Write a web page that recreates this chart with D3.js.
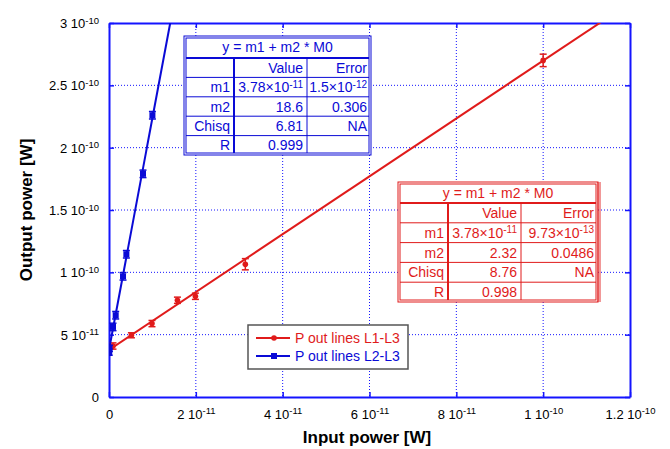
<!DOCTYPE html>
<html><head><meta charset="utf-8">
<script src="https://cdn.jsdelivr.net/npm/d3@7"></script>
<style>body{margin:0;background:#fff}svg{display:block}text{font-family:"Liberation Sans",Arial,Helvetica,sans-serif}</style>
</head><body><svg id="c" width="670" height="449"></svg>
<script>
// ---- data ----
const xTickValues = [0, 2e-11, 4e-11, 6e-11, 8e-11, 1e-10, 1.2e-10];
const xTickLabels = ["0", "2 10^-11", "4 10^-11", "6 10^-11", "8 10^-11", "1 10^-10", "1.2 10^-10"];
const yTickValues = [0, 5e-11, 1e-10, 1.5e-10, 2e-10, 2.5e-10, 3e-10];
const yTickLabels = ["0", "5 10^-11", "1 10^-10", "1.5 10^-10", "2 10^-10", "2.5 10^-10", "3 10^-10"];

const redX   = [0.92e-12, 5.16e-12, 9.9e-12, 1.576e-11, 1.99e-11, 3.14e-11, 1.0e-10];
const redY   = [4.09e-11, 4.95e-11, 5.89e-11, 7.76e-11, 8.08e-11, 1.065e-10, 2.70e-10];
const redErr = [2.5e-12, 2.0e-12, 2.5e-12, 2.5e-12, 2.5e-12, 4.5e-12, 5.0e-12];
const redFit = [3.78e-11, 2.32];

const blueX   = [0.05e-12, 0.1e-12, 0.92e-12, 1.54e-12, 3.23e-12, 4.0e-12, 7.83e-12, 1.0e-11];
const blueY   = [3.6e-11, 3.9e-11, 5.62e-11, 6.56e-11, 9.68e-11, 1.145e-10, 1.79e-10, 2.26e-10];
const blueErr = [2.5e-12, 2.5e-12, 3e-12, 3e-12, 3e-12, 3e-12, 3e-12, 3e-12];
const blueFit = [3.78e-11, 18.6];

const seriesNames = ["P out lines L1-L3", "P out lines L2-L3"];
const tableTitle = "y = m1 + m2 * M0";
const blueTable = [["", "Value", "Error"], ["m1", "3.78×10^-11", "1.5×10^-12"], ["m2", "18.6", "0.306"], ["Chisq", "6.81", "NA"], ["R", "0.999", ""]];
const redTable  = [["", "Value", "Error"], ["m1", "3.78×10^-11", "9.73×10^-13"], ["m2", "2.32", "0.0486"], ["Chisq", "8.76", "NA"], ["R", "0.998", ""]];

// ---- drawing ----
const RED = "#e01b1b", BLUE = "#0a0ad6", AX = "#1414ff";
const svg = d3.select("#c");
const L = 109, R = 630, T = 23, B = 397;
const x = d3.scaleLinear().domain([0, 1.2e-10]).range([L, R]);
const y = d3.scaleLinear().domain([0, 3e-10]).range([B, T]);

function supText(sel, s, supSize) {
  const parts = s.split("^");
  sel.text(null);
  sel.append("tspan").text(parts[0]);
  if (parts.length > 1) sel.append("tspan").attr("dy", "-0.45em").style("font-size", supSize + "px").text(parts[1]);
}

// grid
const grid = svg.append("g");
grid.selectAll("line.gx").data(xTickValues.slice(1, -1)).join("line")
  .attr("x1", d => x(d)).attr("x2", d => x(d)).attr("y1", T).attr("y2", B)
  .attr("stroke", AX).attr("stroke-width", 1).attr("stroke-dasharray", "1,2");
grid.selectAll("line.gy").data(yTickValues.slice(1, -1)).join("line")
  .attr("y1", d => y(d)).attr("y2", d => y(d)).attr("x1", L).attr("x2", R)
  .attr("stroke", AX).attr("stroke-width", 1).attr("stroke-dasharray", "1,2");

// axes
function styleAxis(g) {
  g.select(".domain").attr("stroke", AX).attr("stroke-width", 2);
  g.selectAll(".tick line").attr("stroke", AX).attr("stroke-width", 1.5);
}
const gx = svg.append("g").attr("transform", `translate(0,${B})`)
  .call(d3.axisBottom(x).tickValues(xTickValues).tickSizeInner(-5).tickSizeOuter(0).tickPadding(10));
styleAxis(gx);
gx.selectAll(".tick text").each(function(d, i) {
  d3.select(this).attr("fill", "#000").style("font-size", "13px").attr("dy", "0.9em");
  supText(d3.select(this), xTickLabels[i], 9.5);
});
const gy = svg.append("g").attr("transform", `translate(${L},0)`)
  .call(d3.axisLeft(y).tickValues(yTickValues).tickSizeInner(-5).tickSizeOuter(0).tickPadding(10));
styleAxis(gy);
gy.selectAll(".tick text").each(function(d, i) {
  d3.select(this).attr("fill", "#000").style("font-size", "13px").attr("dy", "0.35em");
  supText(d3.select(this), yTickLabels[i], 9.5);
});
const gt = svg.append("g").attr("transform", `translate(0,${T})`)
  .call(d3.axisTop(x).tickValues(xTickValues).tickSizeInner(-5).tickSizeOuter(0).tickFormat(""));
styleAxis(gt);
const gr = svg.append("g").attr("transform", `translate(${R},0)`)
  .call(d3.axisRight(y).tickValues(yTickValues).tickSizeInner(-5).tickSizeOuter(0).tickFormat(""));
styleAxis(gr);

// axis titles
svg.append("text").attr("x", 367).attr("y", 443).attr("text-anchor", "middle")
  .style("font-size", "17px").style("font-weight", "bold").text("Input power [W]");
svg.append("text").attr("transform", "translate(32,210) rotate(-90)").attr("text-anchor", "middle")
  .style("font-size", "17px").style("font-weight", "bold").text("Output power [W]");

// plot clip
svg.append("defs").append("clipPath").attr("id", "clip").append("rect")
  .attr("x", L).attr("y", T).attr("width", R - L).attr("height", B - T);
const plot = svg.append("g").attr("clip-path", "url(#clip)");

function drawSeries(xs, ys, es, fit, color, marker) {
  const xmax = 1.2e-10;
  const line = d3.line().x(d => x(d[0])).y(d => y(d[1]));
  plot.append("path").attr("d", line([[0, fit[0]], [xmax, fit[0] + fit[1] * xmax]]))
    .attr("fill", "none").attr("stroke", color).attr("stroke-width", 2);
  const g = plot.append("g");
  xs.forEach((xv, i) => {
    const cx = x(xv), y1 = y(ys[i] - es[i]), y2 = y(ys[i] + es[i]);
    g.append("line").attr("x1", cx).attr("x2", cx).attr("y1", y1).attr("y2", y2).attr("stroke", color).attr("stroke-width", 1.5);
    [y1, y2].forEach(yy => g.append("line").attr("x1", cx - 3.5).attr("x2", cx + 3.5).attr("y1", yy).attr("y2", yy).attr("stroke", color).attr("stroke-width", 1.5));
    if (marker === "circle") g.append("circle").attr("cx", cx).attr("cy", y(ys[i])).attr("r", 2.8).attr("fill", color);
    else g.append("rect").attr("x", cx - 3).attr("y", y(ys[i]) - 3).attr("width", 6).attr("height", 6).attr("fill", color);
  });
}
drawSeries(redX, redY, redErr, redFit, RED, "circle");
drawSeries(blueX, blueY, blueErr, blueFit, BLUE, "rect");

// tables
function drawTable(x0, y0, colW, titleH, rowH, rows, color, shadow) {
  const W = d3.sum(colW), H = titleH + rowH * rows.length;
  const g = svg.append("g");
  g.append("rect").attr("x", x0).attr("y", y0).attr("width", W).attr("height", H).attr("fill", "#fff").attr("stroke", color).attr("stroke-width", 1);
  if (shadow) g.append("rect").attr("x", x0 + W - 1).attr("y", y0).attr("width", 4).attr("height", H).attr("fill", color).attr("opacity", 0.45);
  g.append("rect").attr("x", x0 + 2).attr("y", y0 + 2).attr("width", W - 4).attr("height", H - 4).attr("fill", "none").attr("stroke", color).attr("stroke-width", 1);
  g.append("line").attr("x1", x0 + 2).attr("x2", x0 + W - 2).attr("y1", y0 + titleH).attr("y2", y0 + titleH).attr("stroke", color).attr("stroke-width", 2);
  for (let r = 1; r < rows.length; r++)
    g.append("line").attr("x1", x0 + 2).attr("x2", x0 + W - 2).attr("y1", y0 + titleH + r * rowH).attr("y2", y0 + titleH + r * rowH).attr("stroke", color).attr("stroke-width", 1);
  let cx = x0;
  for (let c = 0; c < colW.length - 1; c++) {
    cx += colW[c];
    g.append("line").attr("x1", cx).attr("x2", cx).attr("y1", y0 + titleH).attr("y2", y0 + H - 2).attr("stroke", color).attr("stroke-width", c === 0 ? 2 : 1);
  }
  g.append("text").attr("x", x0 + W / 2).attr("y", y0 + titleH / 2 + 5).attr("text-anchor", "middle")
    .attr("fill", color).style("font-size", "14px").text(tableTitle);
  rows.forEach((row, r) => {
    let xe = x0;
    row.forEach((cell, c) => {
      xe += colW[c];
      const t = g.append("text").attr("x", xe - 4).attr("y", y0 + titleH + r * rowH + rowH / 2 + 5)
        .attr("text-anchor", "end").attr("fill", color).style("font-size", "14px");
      supText(t, cell, 10);
    });
  });
}
drawTable(184, 36, [50, 73, 64], 22, 19.4, blueTable, BLUE, false);
drawTable(398, 182, [50, 73, 77], 21, 19.8, redTable, RED, true);

// legend
const lg = svg.append("g");
lg.append("rect").attr("x", 248).attr("y", 325).attr("width", 160).attr("height", 44)
  .attr("fill", "#fff").attr("stroke", "#555").attr("stroke-width", 1.5);
[[RED, "circle"], [BLUE, "rect"]].forEach(([col, mk], i) => {
  const yy = 338 + i * 18;
  lg.append("line").attr("x1", 256).attr("x2", 290).attr("y1", yy).attr("y2", yy).attr("stroke", col).attr("stroke-width", 2);
  if (mk === "circle") lg.append("circle").attr("cx", 274).attr("cy", yy).attr("r", 2.8).attr("fill", col);
  else lg.append("rect").attr("x", 271).attr("y", yy - 3).attr("width", 6).attr("height", 6).attr("fill", col);
  lg.append("text").attr("x", 295).attr("y", yy + 5).attr("fill", col).style("font-size", "14px").text(seriesNames[i]);
});
</script></body></html>
